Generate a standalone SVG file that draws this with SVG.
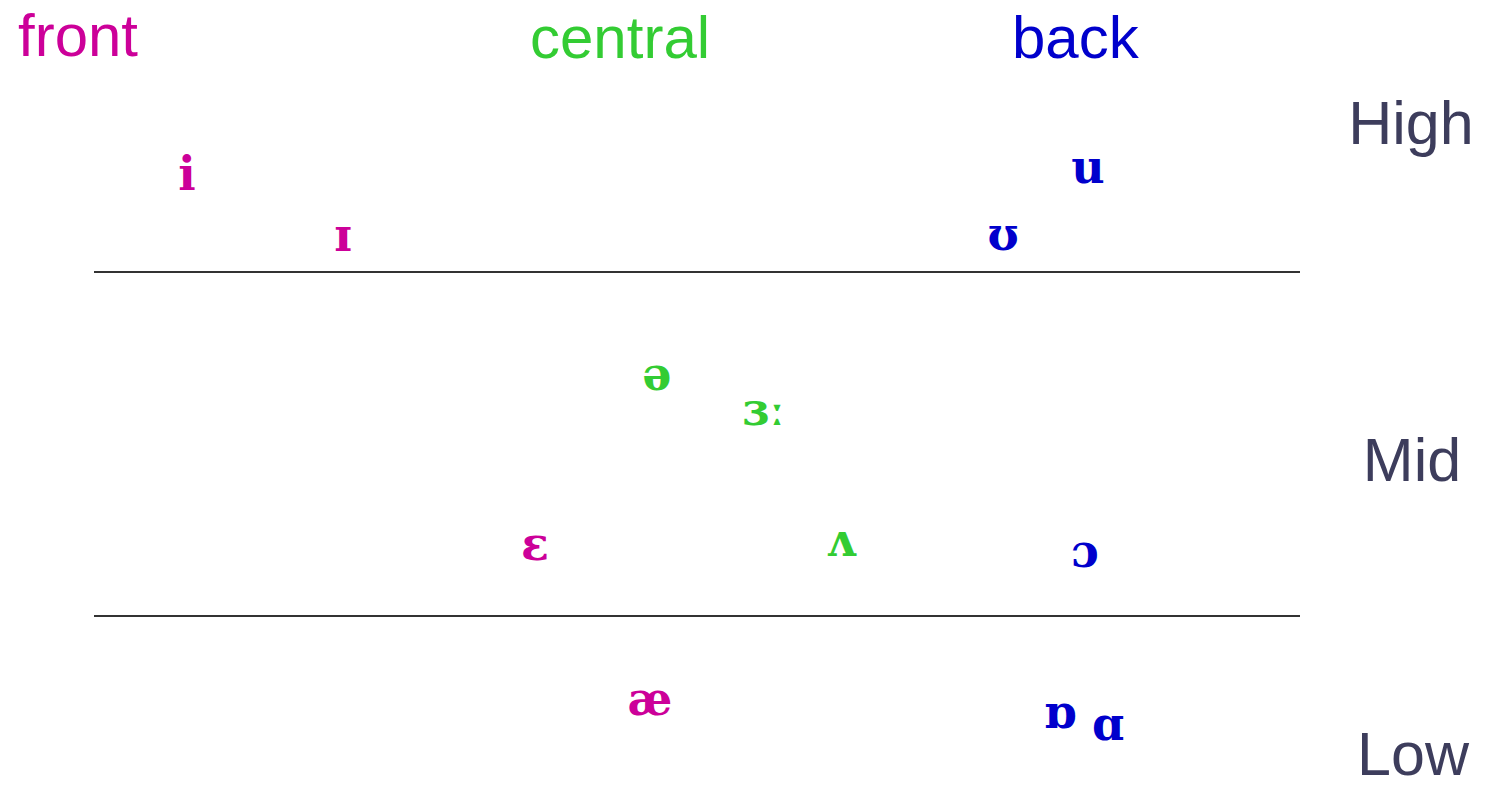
<svg xmlns="http://www.w3.org/2000/svg" width="1495" height="788" viewBox="0 0 1495 788">
<style>
.hdr{font-family:"Liberation Sans",Arial,sans-serif;font-size:60px}
.lvl{font-family:"Liberation Sans",Arial,sans-serif;font-size:61px;fill:#3d3d5c;text-anchor:middle}
.v{font-family:"DejaVu Serif","Liberation Serif",serif;font-weight:bold;font-size:46px;text-anchor:middle}
.f{fill:#cc0099}.c{fill:#33cc33}.b{fill:#0000cc}
.ln{stroke:#333;stroke-width:2}
</style>
<rect width="1495" height="788" fill="#fff"/>
<g id="headers">
<text class="hdr f" x="18" y="56" textLength="120" lengthAdjust="spacingAndGlyphs">front</text>
<text class="hdr c" x="530" y="58">central</text>
<text class="hdr b" x="1012" y="58">back</text>
</g>
<g id="levels">
<text class="lvl" x="1411" y="144">High</text>
<text class="lvl" x="1412" y="481">Mid</text>
<text class="lvl" x="1413" y="775">Low</text>
</g>
<g id="connectors">
<line class="ln" x1="94" y1="272" x2="1300" y2="272"/>
<line class="ln" x1="94" y1="616" x2="1300" y2="616"/>
</g>
<g id="v-i"><text class="v f" x="187" y="190">i</text></g>
<g id="v-I"><text class="v f" x="343" y="251">ɪ</text></g>
<g id="v-u"><text class="v b" x="1088" y="183">u</text></g>
<g id="v-U"><text class="v b" x="1003" y="250">ʊ</text></g>
<g id="v-schwa"><text class="v c" x="657" y="390">ə</text></g>
<g id="v-3"><text class="v c" x="764" y="425">ɜː</text></g>
<g id="v-e"><text class="v f" x="535" y="560">ɛ</text></g>
<g id="v-wedge"><text class="v c" x="841" y="556">ʌ</text></g>
<g id="v-o"><text class="v b" x="1085" y="567">ɔ</text></g>
<g id="v-ae"><text class="v f" x="650" y="715">æ</text></g>
<g id="v-D"><text class="v b" x="1060" y="728">ɒ</text></g>
<g id="v-A"><text class="v b" x="1108" y="740">ɑ</text></g>
</svg>
